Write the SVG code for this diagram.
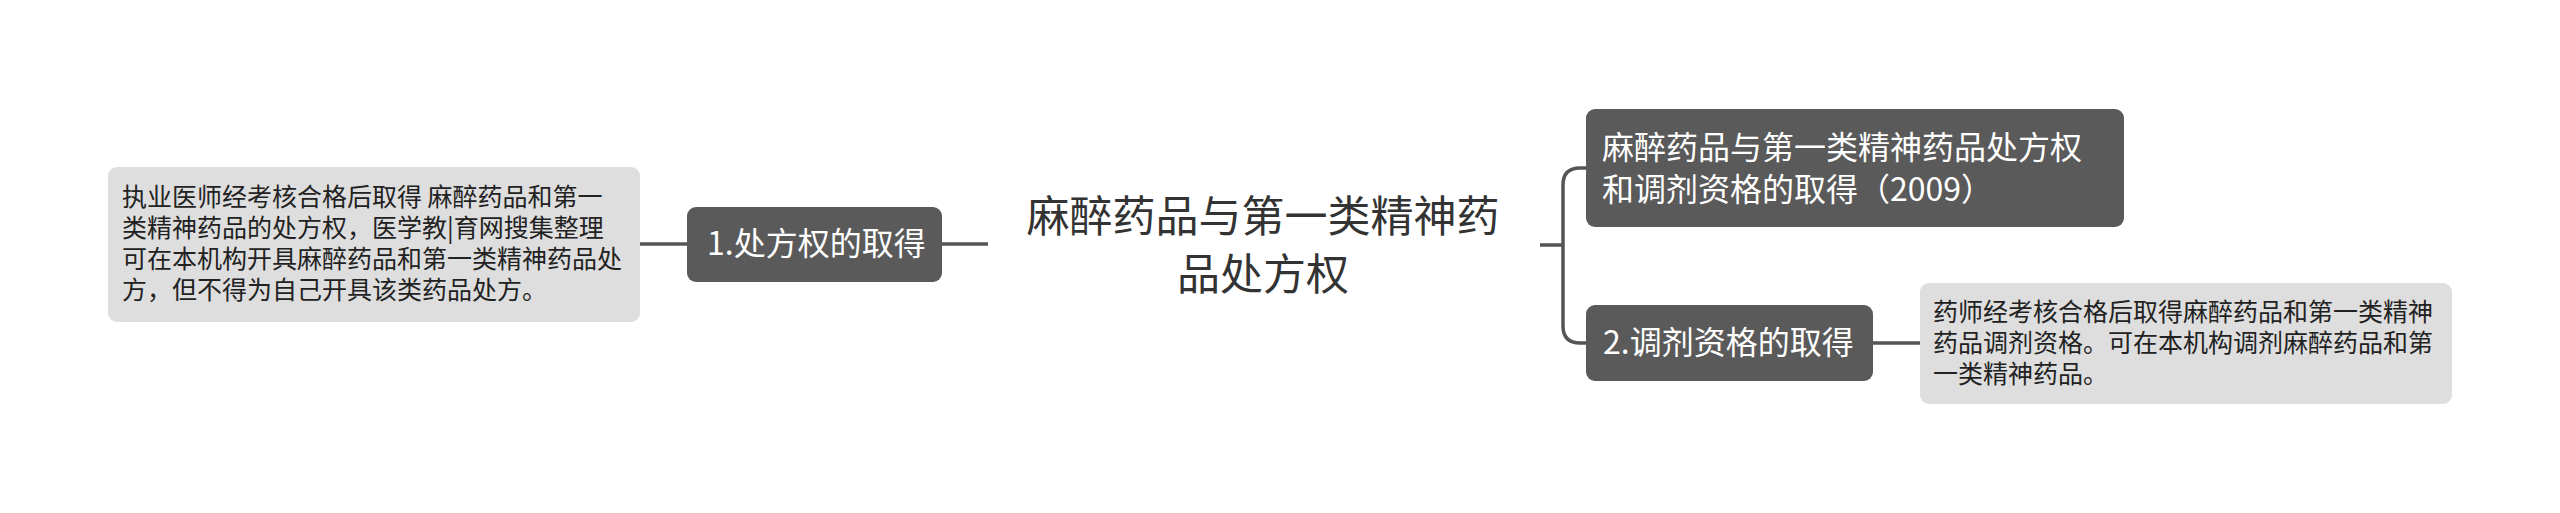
<svg xmlns="http://www.w3.org/2000/svg" width="2560" height="513" viewBox="0 0 2560 513">
<style>
.dark{fill:#5a5a5a;}
.leaf{fill:#dedede;}
.nt{font-family:"Noto Sans CJK SC","Noto Sans",sans-serif;font-size:32px;fill:#ffffff;}
.lt{font-family:"Noto Sans CJK SC","Noto Sans",sans-serif;font-size:25px;fill:#222222;}
.ct{font-family:"Noto Sans CJK SC","Noto Sans",sans-serif;font-size:43px;fill:#333333;text-anchor:middle;}
.conn{fill:none;stroke:#555555;stroke-width:3.5;}
</style>
<rect width="2560" height="513" fill="#ffffff"/>
<g id="connectors">
<path class="conn" d="M640 244 H687"/>
<path class="conn" d="M942 244 H988"/>
<path class="conn" d="M1540 245 H1563"/>
<path class="conn" d="M1586 168 H1580 Q1563 168 1563 185 V326 Q1563 343 1580 343 H1586"/>
<path class="conn" d="M1873 343 H1920"/>
</g>
<g id="root">
<text class="ct" x="1263" y="232">麻醉药品与第一类精神药</text>
<text class="ct" x="1263" y="290">品处方权</text>
</g>
<g id="node-chufang">
<rect class="dark" x="687" y="207" width="255" height="75" rx="9"/>
<text class="nt" x="707" y="255">1.处方权的取得</text>
</g>
<g id="leaf-chufang">
<rect class="leaf" x="108" y="167" width="532" height="155" rx="9"/>
<text class="lt" x="122" y="206">执业医师经考核合格后取得 麻醉药品和第一</text>
<text class="lt" x="122" y="237">类精神药品的处方权，医学教|育网搜集整理</text>
<text class="lt" x="122" y="268">可在本机构开具麻醉药品和第一类精神药品处</text>
<text class="lt" x="122" y="299">方，但不得为自己开具该类药品处方。</text>
</g>
<g id="node-title">
<rect class="dark" x="1586" y="109" width="538" height="118" rx="9"/>
<text class="nt" x="1602" y="159">麻醉药品与第一类精神药品处方权</text>
<text class="nt" x="1602" y="201">和调剂资格的取得（2009）</text>
</g>
<g id="node-tiaoji">
<rect class="dark" x="1586" y="305" width="287" height="76" rx="9"/>
<text class="nt" x="1603" y="354">2.调剂资格的取得</text>
</g>
<g id="leaf-tiaoji">
<rect class="leaf" x="1920" y="283" width="532" height="121" rx="9"/>
<text class="lt" x="1933" y="321">药师经考核合格后取得麻醉药品和第一类精神</text>
<text class="lt" x="1933" y="352">药品调剂资格。可在本机构调剂麻醉药品和第</text>
<text class="lt" x="1933" y="383">一类精神药品。</text>
</g>
</svg>
